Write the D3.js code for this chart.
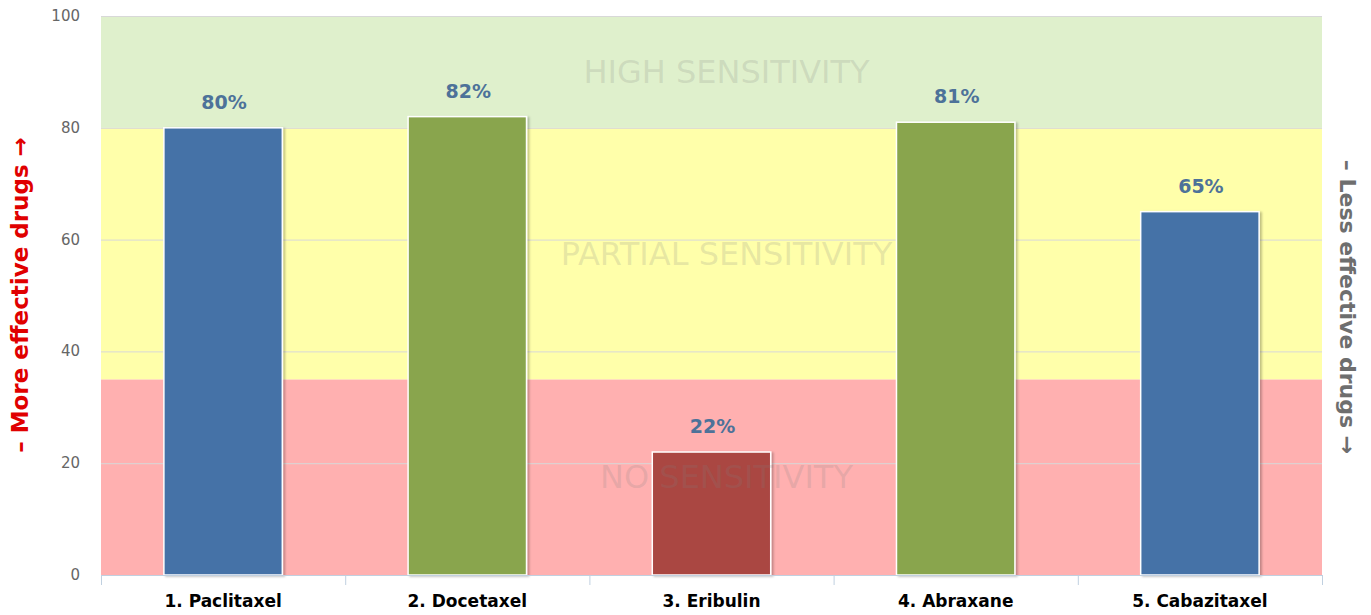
<!DOCTYPE html>
<html>
<head>
<meta charset="utf-8">
<script src="https://cdn.jsdelivr.net/npm/d3@7"></script>
<style>
  body { margin: 0; background: #fff; }
  svg { font-family: "DejaVu Sans", sans-serif; }
</style>
</head>
<body>
<div id="chart"></div>
<script>
const drugs = ["1. Paclitaxel", "2. Docetaxel", "3. Eribulin", "4. Abraxane", "5. Cabazitaxel"];
const sensitivity = [80, 82, 22, 81, 65];
const barColors = ["#4572A7", "#89A54E", "#AA4643", "#89A54E", "#4572A7"];

const bandLabels = ["NO SENSITIVITY", "PARTIAL SENSITIVITY", "HIGH SENSITIVITY"];
const bandFrom = [0, 35, 80];
const bandTo = [35, 80, 100];
const bandColors = ["#ffb0b0", "#ffffaa", "#dff0cc"];
const bandLabelY = [17.5, 57.5, 90];

const yTicks = [0, 20, 40, 60, 80, 100];

const W = 1371, H = 615;
const margin = {top: 16, right: 49, bottom: 40, left: 101};
const width = W - margin.left - margin.right,
      height = H - margin.top - margin.bottom;

const svg = d3.select("#chart").append("svg")
  .attr("width", W).attr("height", H);

const defs = svg.append("defs");
const shadow = defs.append("filter").attr("id", "shadow")
  .attr("x", "-10%").attr("y", "-10%").attr("width", "130%").attr("height", "130%");
shadow.append("feDropShadow").attr("dx", 2).attr("dy", 1).attr("stdDeviation", 1.2)
  .attr("flood-color", "#000").attr("flood-opacity", 0.25);

const g = svg.append("g").attr("transform", `translate(${margin.left},${margin.top})`);

const x = d3.scaleBand().domain(drugs).range([0, width]).paddingInner(0).paddingOuter(0);
const y = d3.scaleLinear().domain([0, 100]).range([height, 0]);

// plot bands
g.selectAll(".band")
  .data(bandFrom)
  .join("rect")
  .attr("x", 0)
  .attr("width", width)
  .attr("y", (d, i) => y(bandTo[i]))
  .attr("height", (d, i) => y(d) - y(bandTo[i]))
  .attr("fill", (d, i) => bandColors[i]);

// grid
g.selectAll(".grid")
  .data(yTicks.filter(d => d > 0))
  .join("line")
  .attr("x1", 0).attr("x2", width)
  .attr("y1", d => y(d) + 0.5).attr("y2", d => y(d) + 0.5)
  .attr("stroke", "#d8d8d8").attr("stroke-width", 1);

// y axis labels
g.selectAll(".ytick")
  .data(yTicks)
  .join("text")
  .attr("x", -21)
  .attr("y", d => y(d) + 5)
  .attr("text-anchor", "end")
  .attr("fill", "#666")
  .style("font-size", "15px")
  .text(d => d);

// bars
const bw = x.bandwidth() * 0.485;
g.selectAll(".bar")
  .data(sensitivity)
  .join("rect")
  .attr("x", (d, i) => x(drugs[i]) + (x.bandwidth() - bw) / 2)
  .attr("width", bw)
  .attr("y", d => y(d))
  .attr("height", d => height - y(d))
  .attr("fill", (d, i) => barColors[i])
  .attr("stroke", "#fff")
  .attr("stroke-width", 1.5)
  .attr("filter", "url(#shadow)");

// value labels
g.selectAll(".val")
  .data(sensitivity)
  .join("text")
  .attr("x", (d, i) => x(drugs[i]) + x.bandwidth() / 2 + 1)
  .attr("y", d => y(d) - 19)
  .attr("text-anchor", "middle")
  .attr("fill", "#4d7299")
  .style("font-size", "19px")
  .style("font-weight", "bold")
  .text(d => d + "%");

// band labels
g.selectAll(".bandlabel")
  .data(bandLabels)
  .join("text")
  .attr("x", width / 2 + 15)
  .attr("y", (d, i) => y(bandLabelY[i]) + 11)
  .attr("text-anchor", "middle")
  .attr("fill", "#808080")
  .attr("fill-opacity", 0.2)
  .style("font-size", "32px")
  .text(d => d);

// x axis
const xAxis = g.append("g").attr("transform", `translate(0,${height})`);
xAxis.append("line")
  .attr("x1", 0).attr("x2", width).attr("y1", 0.5).attr("y2", 0.5)
  .attr("stroke", "#C0D0E0");
xAxis.selectAll(".xtick")
  .data(d3.range(drugs.length + 1))
  .join("line")
  .attr("x1", i => i * x.step() + 0.5).attr("x2", i => i * x.step() + 0.5)
  .attr("y1", 0).attr("y2", 10)
  .attr("stroke", "#C0D0E0");
xAxis.selectAll(".xlabel")
  .data(drugs)
  .join("text")
  .attr("x", d => x(d) + x.bandwidth() / 2)
  .attr("y", 32)
  .attr("text-anchor", "middle")
  .attr("fill", "#000")
  .style("font-size", "17px")
  .style("font-weight", "bold")
  .text(d => d);

// axis titles
svg.append("text")
  .attr("transform", `translate(28, 295) rotate(-90)`)
  .attr("text-anchor", "middle")
  .attr("fill", "#e00000")
  .style("font-size", "23px")
  .style("font-weight", "bold")
  .text("\u2013 More effective drugs \u2192");

svg.append("text")
  .attr("transform", `translate(1340, 307) rotate(90)`)
  .attr("text-anchor", "middle")
  .attr("fill", "#6e6e6e")
  .style("font-size", "22px")
  .style("font-weight", "bold")
  .text("\u2013 Less effective drugs \u2192");
</script>
</body>
</html>
